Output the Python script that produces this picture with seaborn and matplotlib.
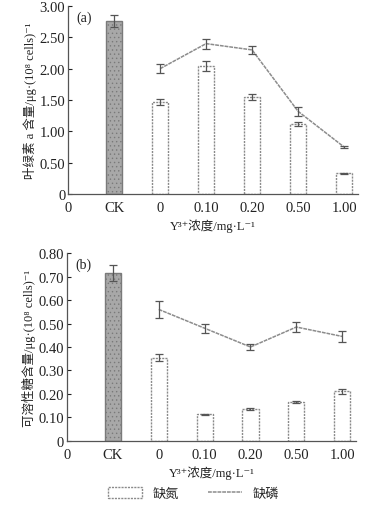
import numpy as np
import pandas as pd
import matplotlib
matplotlib.use("Agg")
import matplotlib.pyplot as plt
from matplotlib.patches import Patch
from matplotlib.lines import Line2D
import seaborn as sns

# ---------------- data ----------------
categories = ["CK", "0", "0.10", "0.20", "0.50", "1.00"]
tick_labels = ["0", "CK", "0", "0.10", "0.20", "0.50", "1.00"]

# (a) chlorophyll a
chl_ck = 2.76
chl_ck_err = 0.10
chl_n = [1.47, 2.05, 1.55, 1.12, 0.33]       # 缺氮 bars
chl_n_err = [0.05, 0.08, 0.05, 0.03, 0.01]
chl_p = [2.00, 2.40, 2.30, 1.32, 0.75]       # 缺磷 line
chl_p_err = [0.07, 0.08, 0.07, 0.07, 0.02]

# (b) soluble sugar
sug_ck = 0.715
sug_ck_err = 0.035
sug_n = [0.355, 0.113, 0.135, 0.165, 0.212]
sug_n_err = [0.015, 0.003, 0.005, 0.004, 0.010]
sug_p = [0.560, 0.480, 0.400, 0.485, 0.445]
sug_p_err = [0.035, 0.020, 0.012, 0.020, 0.022]

# ---------------- style ----------------
sns.set_theme(style="ticks")
plt.rcParams["font.family"] = ["Liberation Serif", "Noto Sans CJK SC", "DejaVu Sans"]
plt.rcParams["axes.unicode_minus"] = False
plt.rcParams["hatch.linewidth"] = 0.5

EDGE = "#8a8a8a"
LINE = "#8c8c8c"
FS = 10.5

fig = plt.figure(figsize=(3.72, 5.06), dpi=100)
ax1 = fig.add_axes([0.183, 0.6146, 0.779, 0.3715])
ax2 = fig.add_axes([0.180, 0.1265, 0.777, 0.3715])


def draw(ax, ck, ck_err, nvals, nerr, pvals, perr, ymax, ystep, yfmt, ylabel, tag):
    pos = np.arange(1, len(categories) + 1)
    df_ck = pd.DataFrame({"x": [pos[0]], "y": [ck]})
    df_n = pd.DataFrame({"x": pos[1:], "y": nvals})
    df_p = pd.DataFrame({"x": pos[1:], "y": pvals})

    sns.barplot(data=df_ck, x="x", y="y", native_scale=True, width=0.35,
                color="#a8a8a8", edgecolor="#7a7a7a", linewidth=1.0, ax=ax,
                errorbar=None, saturation=1)
    for p in ax.patches:
        p.set_hatch("....")
    nstart = len(ax.patches)
    sns.barplot(data=df_n, x="x", y="y", native_scale=True, width=0.35,
                color="white", edgecolor=EDGE, linewidth=1.0, ax=ax,
                errorbar=None, saturation=1)
    for p in ax.patches[nstart:]:
        p.set_linestyle((0, (1.5, 0.8)))

    sns.lineplot(data=df_p, x="x", y="y", color=LINE, linewidth=1.1, ax=ax,
                 marker=None, errorbar=None)
    ax.lines[-1].set_linestyle((0, (2.5, 0.6)))

    ekw = dict(fmt="none", ecolor="#555555", elinewidth=0.9, capsize=3, capthick=0.9)
    ax.errorbar([pos[0]], [ck], yerr=[ck_err], **ekw)
    ax.errorbar(pos[1:], nvals, yerr=nerr, **ekw)
    ax.errorbar(pos[1:], pvals, yerr=perr, **ekw)

    ax.set_xlim(0, 6.3)
    ax.set_ylim(0, ymax)
    ax.set_xticks(np.arange(0, 7))
    ax.set_xticklabels(tick_labels, fontsize=FS)
    yt = np.arange(0, ymax + ystep / 2, ystep)
    ax.set_yticks(yt)
    ax.set_yticklabels(["0"] + [yfmt.format(v) for v in yt[1:]], fontsize=FS)
    ax.tick_params(axis="y", direction="in", length=3, width=0.8, pad=2, colors="#222222")
    ax.tick_params(axis="x", length=0, pad=5, colors="#222222")
    for s in ["top", "right"]:
        ax.spines[s].set_visible(False)
    for s in ["left", "bottom"]:
        ax.spines[s].set_color("#555555")
        ax.spines[s].set_linewidth(0.9)
    ax.set_xlabel("Y³⁺浓度/mg·L⁻¹", fontsize=9, labelpad=3, color="#222222")
    ax.set_ylabel(ylabel, fontsize=9, labelpad=2, color="#222222")
    ax.text(0.03, 0.94, tag, transform=ax.transAxes, fontsize=10, va="center", ha="left",
            color="#222222")


draw(ax1, chl_ck, chl_ck_err, chl_n, chl_n_err, chl_p, chl_p_err,
     3.0, 0.5, "{:.2f}", "叶绿素 a 含量/μg·(10⁸ cells)⁻¹", "(a)")
draw(ax2, sug_ck, sug_ck_err, sug_n, sug_n_err, sug_p, sug_p_err,
     0.8, 0.1, "{:.2f}", "可溶性糖含量/μg·(10⁸ cells)⁻¹", "(b)")

handles = [Patch(facecolor="white", edgecolor=EDGE, linewidth=1.0, linestyle=(0, (1.5, 0.8))),
           Line2D([0], [0], color=LINE, linewidth=1.1, linestyle=(0, (2.5, 0.6)))]
fig.legend(handles, ["缺氮", "缺磷"], loc="center", bbox_to_anchor=(0.52, 0.022),
           ncol=2, frameon=False, fontsize=9.5, handlelength=2.6, handleheight=0.9,
           columnspacing=2.2, handletextpad=0.8)

fig.savefig("out.png", dpi=100)
